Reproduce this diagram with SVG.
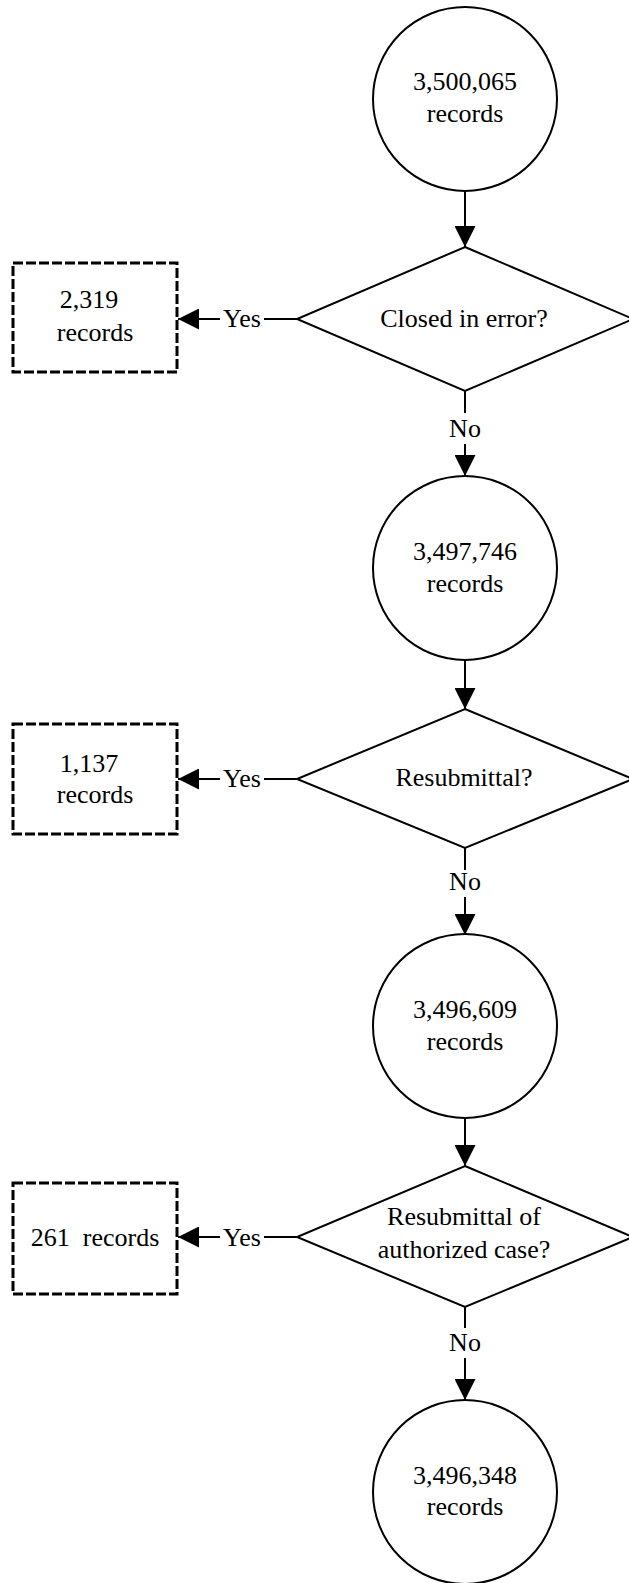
<svg xmlns="http://www.w3.org/2000/svg" width="629" height="1583" viewBox="0 0 629 1583">
<style>
text{font-family:"Liberation Serif","Times New Roman",serif;font-size:26px;fill:#000;text-anchor:middle}
.c{fill:#fff;stroke:#000;stroke-width:2}
.d{fill:#fff;stroke:#000;stroke-width:2}
.b{fill:#fff;stroke:#000;stroke-width:3;stroke-dasharray:10 3}
.l{fill:none;stroke:#000;stroke-width:2}
</style>
<defs>
<marker id="ah" markerUnits="userSpaceOnUse" markerWidth="21" markerHeight="21" refX="21" refY="10.5" orient="auto" viewBox="0 0 21 21">
<path d="M0,0 L21,10.5 L0,21 z" fill="#000"/>
</marker>
</defs>
<rect width="629" height="1583" fill="#fff"/>
<g id="connectors">
<line class="l" x1="465" y1="190" x2="465" y2="247" marker-end="url(#ah)"/>
<line class="l" x1="297" y1="319" x2="264" y2="319"/>
<line class="l" x1="220" y1="319" x2="178" y2="319" marker-end="url(#ah)"/>
<line class="l" x1="465" y1="391" x2="465" y2="413"/>
<line class="l" x1="465" y1="444" x2="465" y2="476" marker-end="url(#ah)"/>
<text x="242" y="327">Yes</text>
<text x="465" y="437">No</text>

<line class="l" x1="465" y1="660" x2="465" y2="709" marker-end="url(#ah)"/>
<line class="l" x1="297" y1="779" x2="264" y2="779"/>
<line class="l" x1="220" y1="779" x2="178" y2="779" marker-end="url(#ah)"/>
<line class="l" x1="465" y1="848" x2="465" y2="870"/>
<line class="l" x1="465" y1="897" x2="465" y2="935" marker-end="url(#ah)"/>
<text x="242" y="787">Yes</text>
<text x="465" y="890">No</text>

<line class="l" x1="465" y1="1117" x2="465" y2="1166" marker-end="url(#ah)"/>
<line class="l" x1="297" y1="1237" x2="264" y2="1237"/>
<line class="l" x1="220" y1="1237" x2="178" y2="1237" marker-end="url(#ah)"/>
<line class="l" x1="465" y1="1307" x2="465" y2="1328"/>
<line class="l" x1="465" y1="1358" x2="465" y2="1400" marker-end="url(#ah)"/>
<text x="242" y="1246">Yes</text>
<text x="465" y="1351">No</text>
</g>
<g id="n1">
<circle class="c" cx="465" cy="99" r="92"/>
<text x="465" y="90">3,500,065</text>
<text x="465" y="122">records</text>
</g>
<g id="d1">
<polygon class="d" points="465,247 633,319 465,391 297,319"/>
<text x="464" y="327">Closed in error?</text>
</g>
<g id="b1">
<rect class="b" x="13" y="263" width="164" height="109"/>
<text x="89" y="308">2,319</text>
<text x="95" y="341">records</text>
</g>
<g id="n2">
<circle class="c" cx="465" cy="568" r="92"/>
<text x="465" y="560">3,497,746</text>
<text x="465" y="592">records</text>
</g>
<g id="d2">
<polygon class="d" points="465,709 633,779 465,848 297,779"/>
<text x="464" y="786">Resubmittal?</text>
</g>
<g id="b2">
<rect class="b" x="13" y="724" width="164" height="110"/>
<text x="89" y="772">1,137</text>
<text x="95" y="803">records</text>
</g>
<g id="n3">
<circle class="c" cx="465" cy="1026" r="92"/>
<text x="465" y="1018">3,496,609</text>
<text x="465" y="1050">records</text>
</g>
<g id="d3">
<polygon class="d" points="465,1166 633,1237 465,1307 297,1237"/>
<text x="464" y="1225">Resubmittal of</text>
<text x="464" y="1258">authorized case?</text>
</g>
<g id="b3">
<rect class="b" x="13" y="1183" width="164" height="111"/>
<text x="95" y="1246" xml:space="preserve">261  records</text>
</g>
<g id="n4">
<circle class="c" cx="465" cy="1492" r="92"/>
<text x="465" y="1484">3,496,348</text>
<text x="465" y="1515">records</text>
</g>
</svg>
